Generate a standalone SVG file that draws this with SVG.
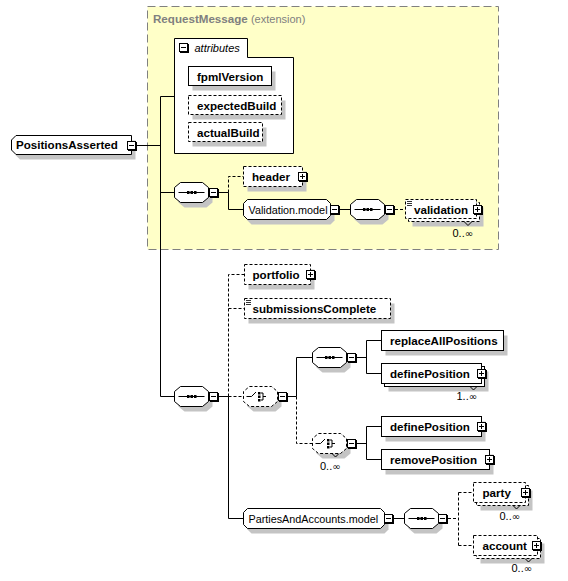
<svg xmlns="http://www.w3.org/2000/svg" width="568" height="581" viewBox="0 0 568 581">
<style>
.bx{fill:#fff;stroke:#000;stroke-width:1}
.d{stroke-dasharray:3,2}
.sh{fill:#c4c4c4;stroke:none}
.t{font-family:"Liberation Sans",Arial,sans-serif;font-size:11.6px;font-weight:bold;fill:#000}
.r{font-family:"Liberation Sans",Arial,sans-serif;font-size:10.8px;fill:#000}
.occ{font-family:"Liberation Sans",Arial,sans-serif;font-size:11px;fill:#000}
.inf{font-family:"DejaVu Sans",sans-serif;font-size:10px}
.c{fill:none;stroke:#000;stroke-width:1}
.tk{fill:none;stroke:#000;stroke-width:1}
</style>
<defs>
<path id="oct" d="M6,0H28L34,5V15L28,20H6L0,15V5Z"/>
<g id="seqg">
<path d="M4,10H30" stroke="#000" fill="none"/>
<rect x="12.5" y="8.5" width="2.5" height="3" fill="#000"/>
<rect x="16" y="8.5" width="2.5" height="3" fill="#000"/>
<rect x="19.5" y="8.5" width="2.5" height="3" fill="#000"/>
</g>
<g id="chg">
<path d="M3,10H8L12.5,5.5" stroke="#000" fill="none"/>
<rect x="14.5" y="5.5" width="2.5" height="2.5" fill="#000"/>
<rect x="14.5" y="9" width="2.5" height="2.5" fill="#000"/>
<rect x="14.5" y="12.5" width="2.5" height="2.5" fill="#000"/>
<path d="M17.5,6.5H19.5V13.5H17.5M19.5,10H22.5" stroke="#000" fill="none"/>
</g>
<g id="minus">
<rect x="1" y="1" width="9" height="9" fill="#000"/>
<rect x="0.5" y="0.5" width="8" height="8" fill="#fff" stroke="#000"/>
<path d="M2,4.5H7" stroke="#000"/>
</g>
<g id="plus">
<rect x="1" y="1" width="9" height="9" fill="#000"/>
<rect x="0.5" y="0.5" width="8" height="8" fill="#fff" stroke="#000"/>
<path d="M2,4.5H7M4.5,2V7" stroke="#000"/>
</g>
<g id="eq">
<path d="M0,0.5H5M0,2.5H5M0,4.5H5" stroke="#000" stroke-width="0.8" fill="none"/>
</g>
</defs>

<g id="requestMessage">
<rect x="147.5" y="6.5" width="351" height="243" fill="#ffffc8" stroke="#808080" stroke-dasharray="8,4"/>
<text x="153" y="22.5" font-family="'Liberation Sans',Arial,sans-serif" font-size="11.6" font-weight="bold" fill="#808080">RequestMessage <tspan font-weight="normal" font-size="11">(extension)</tspan></text>
</g>

<g id="connectors">
<path class="c" d="M137,145.5H160.5M160.5,96.5V396.5M160.5,96.5H174.5M160.5,192.5H174.5M160.5,396.5H174.5M219,192.5H228.5V209.5H243.5M340,209.5H350.5M219,396.5H228.5V518.5H243.5M288,396.5H296.5V357.5H312.5M357,357.5H366.5M366.5,340.5V373.5M366.5,340.5H381.5M366.5,373.5H381.5M357,443.5H366.5M366.5,426.5V459.5M366.5,426.5H381.5M366.5,459.5H381.5M394,518.5H404.5"/>
<path class="c d" d="M228.5,192.5V176.5H243.5M395,209.5H405.5M228.5,396.5V274.5H244.5M228.5,308.5H244.5M228.5,396.5H243.5M296.5,396.5V443.5H312.5M448,518.5H458.5M458.5,492.5V545.5M458.5,492.5H473.5M458.5,545.5H473.5"/>
</g>

<g id="PositionsAsserted">
<path class="sh" d="M20,140.5H135.5V159.5H20L15.5,155V145Z"/>
<path class="bx" d="M16,135.5H131.5V154.5H16L11.5,150V140Z"/>
<text class="t" x="16" y="149">PositionsAsserted</text>
<use href="#minus" x="127" y="141"/>
</g>

<g id="attributes">
<path class="bx" d="M174.5,153.5V38.5H247.5V57.5H293.5V153.5Z"/>
<use href="#minus" x="179" y="43"/>
<text x="194.5" y="52" font-family="'Liberation Sans',Arial,sans-serif" font-size="11" font-style="italic">attributes</text>
</g>

<g id="fpmlVersion">
<rect class="sh" x="192.5" y="71.5" width="83" height="19"/>
<rect class="bx" x="188.5" y="66.5" width="83" height="19"/>
<text class="t" x="197" y="80.5">fpmlVersion</text>
</g>
<g id="expectedBuild">
<rect class="sh" x="192.5" y="100.5" width="93" height="19"/>
<rect class="bx d" x="188.5" y="95.5" width="93" height="19"/>
<text class="t" x="197" y="109.5">expectedBuild</text>
</g>
<g id="actualBuild">
<rect class="sh" x="192.5" y="127.5" width="74" height="19"/>
<rect class="bx d" x="188.5" y="122.5" width="74" height="19"/>
<text class="t" x="197" y="136.5">actualBuild</text>
</g>

<g id="seq1">
<use href="#oct" class="sh" x="178.5" y="187.5"/>
<use href="#oct" class="bx" x="174.5" y="182.5"/>
<use href="#seqg" x="174.5" y="182.5"/>
<use href="#minus" x="209" y="188"/>
</g>

<g id="header">
<rect class="sh" x="247.5" y="171.5" width="59" height="20"/>
<rect class="bx d" x="243.5" y="166.5" width="59" height="20"/>
<text class="t" x="252" y="180.5">header</text>
<use href="#plus" x="298" y="172"/>
</g>

<g id="ValidationModel">
<path class="sh" d="M251.5,204.5H330.5L334.5,208.5V220.5L330.5,224.5H251.5L247.5,220.5V208.5Z"/>
<path class="bx" d="M247.5,199.5H326.5L330.5,203.5V215.5L326.5,219.5H247.5L243.5,215.5V203.5Z"/>
<text class="r" x="248.5" y="213.5">Validation.model</text>
<use href="#minus" x="330" y="205"/>
</g>

<g id="seqValidation">
<use href="#oct" class="sh" x="354.5" y="204.5"/>
<use href="#oct" class="bx" x="350.5" y="199.5"/>
<use href="#seqg" x="350.5" y="199.5"/>
<use href="#minus" x="385" y="205"/>
</g>

<g id="validation">
<rect class="sh" x="412.5" y="207.5" width="71" height="19"/>
<rect class="bx d" x="408.5" y="202.5" width="71" height="19"/>
<rect class="bx d" x="405.5" y="199.5" width="71" height="19"/>
<use href="#eq" x="407" y="201"/>
<text class="t" x="414" y="214">validation</text>
<use href="#plus" x="473" y="205"/>
<path class="tk" d="M464,221.5L468,225.5L472,221.5"/>
<text class="occ" x="452.5" y="236.5">0..<tspan class="inf">∞</tspan></text>
</g>

<g id="seq2">
<use href="#oct" class="sh" x="178.5" y="391.5"/>
<use href="#oct" class="bx" x="174.5" y="386.5"/>
<use href="#seqg" x="174.5" y="386.5"/>
<use href="#minus" x="209" y="392"/>
</g>

<g id="portfolio">
<rect class="sh" x="248.5" y="269.5" width="66" height="20"/>
<rect class="bx d" x="244.5" y="264.5" width="66" height="20"/>
<text class="t" x="252.5" y="278.5">portfolio</text>
<use href="#plus" x="306" y="270"/>
</g>

<g id="submissionsComplete">
<rect class="sh" x="248.5" y="303.5" width="146" height="20"/>
<rect class="bx d" x="244.5" y="298.5" width="146" height="20"/>
<use href="#eq" x="246" y="300"/>
<text class="t" x="252.5" y="312.5">submissionsComplete</text>
</g>

<g id="choice1">
<use href="#oct" class="sh" x="247.5" y="391.5"/>
<use href="#oct" class="bx d" x="243.5" y="386.5"/>
<use href="#chg" x="243.5" y="386.5"/>
<use href="#minus" x="278" y="392"/>
</g>

<g id="seqInner">
<use href="#oct" class="sh" x="316.5" y="352.5"/>
<use href="#oct" class="bx" x="312.5" y="347.5"/>
<use href="#seqg" x="312.5" y="347.5"/>
<use href="#minus" x="347" y="353"/>
</g>

<g id="replaceAllPositions">
<rect class="sh" x="385.5" y="335.5" width="122" height="20"/>
<rect class="bx" x="381.5" y="330.5" width="122" height="20"/>
<text class="t" x="390" y="344.5">replaceAllPositions</text>
</g>

<g id="definePosition1">
<rect class="sh" x="388.5" y="371.5" width="100" height="20"/>
<rect class="bx" x="384.5" y="366.5" width="100" height="20"/>
<rect class="bx" x="381.5" y="363.5" width="100" height="20"/>
<text class="t" x="390" y="377.5">definePosition</text>
<use href="#plus" x="477" y="369"/>
<path class="tk" d="M470,386.5L473.5,390L477,386.5"/>
<text class="occ" x="456.5" y="400">1..<tspan class="inf">∞</tspan></text>
</g>

<g id="choice2">
<use href="#oct" class="sh" x="316.5" y="438.5"/>
<use href="#oct" class="bx d" x="312.5" y="433.5"/>
<use href="#chg" x="312.5" y="433.5"/>
<use href="#minus" x="347" y="439"/>
<path class="tk" d="M332,453.5L335.5,457L339,453.5"/>
<text class="occ" x="320" y="469.5">0..<tspan class="inf">∞</tspan></text>
</g>

<g id="definePosition2">
<rect class="sh" x="385.5" y="421.5" width="100" height="20"/>
<rect class="bx" x="381.5" y="416.5" width="100" height="20"/>
<text class="t" x="390" y="430.5">definePosition</text>
<use href="#plus" x="477" y="422"/>
</g>

<g id="removePosition">
<rect class="sh" x="385.5" y="454.5" width="108" height="20"/>
<rect class="bx" x="381.5" y="449.5" width="108" height="20"/>
<text class="t" x="390" y="463.5">removePosition</text>
<use href="#plus" x="485" y="455"/>
</g>

<g id="PartiesAndAccountsModel">
<path class="sh" d="M251.5,513.5H384.5L388.5,517.5V529.5L384.5,533.5H251.5L247.5,529.5V517.5Z"/>
<path class="bx" d="M247.5,508.5H380.5L384.5,512.5V524.5L380.5,528.5H247.5L243.5,524.5V512.5Z"/>
<text class="r" x="248.5" y="522.5">PartiesAndAccounts.model</text>
<use href="#minus" x="384" y="514"/>
</g>

<g id="seq3">
<use href="#oct" class="sh" x="408.5" y="513.5"/>
<use href="#oct" class="bx" x="404.5" y="508.5"/>
<use href="#seqg" x="404.5" y="508.5"/>
<use href="#minus" x="438" y="514"/>
</g>

<g id="party">
<rect class="sh" x="480.5" y="490.5" width="52" height="20"/>
<rect class="bx d" x="476.5" y="485.5" width="52" height="20"/>
<rect class="bx d" x="473.5" y="482.5" width="52" height="20"/>
<text class="t" x="482.5" y="496.5">party</text>
<use href="#plus" x="521" y="488"/>
<path class="tk" d="M513,505.5L516.5,509L520,505.5"/>
<text class="occ" x="499.5" y="519.5">0..<tspan class="inf">∞</tspan></text>
</g>

<g id="account">
<rect class="sh" x="480.5" y="543.5" width="64" height="20"/>
<rect class="bx d" x="476.5" y="538.5" width="64" height="20"/>
<rect class="bx d" x="473.5" y="535.5" width="64" height="20"/>
<text class="t" x="482.5" y="549.5">account</text>
<use href="#plus" x="532" y="541"/>
<path class="tk" d="M525,558.5L528.5,562L532,558.5"/>
<text class="occ" x="511.5" y="572">0..<tspan class="inf">∞</tspan></text>
</g>
</svg>
